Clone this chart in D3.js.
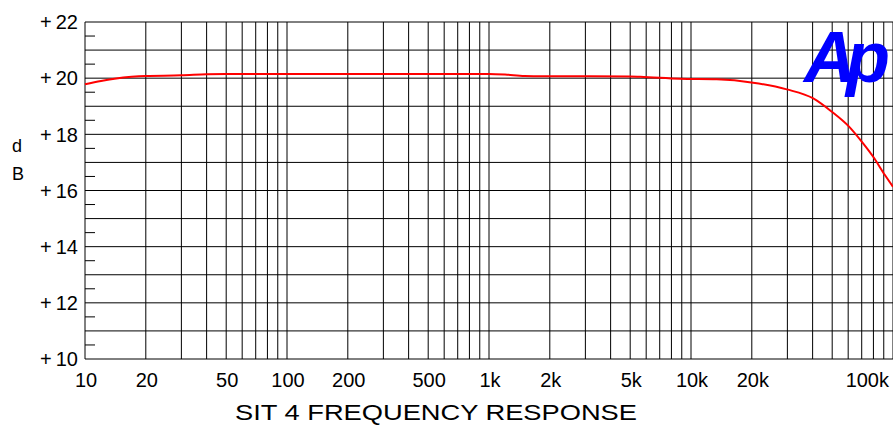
<!DOCTYPE html>
<html>
<head>
<meta charset="utf-8">
<script src="https://cdn.jsdelivr.net/npm/d3@7"></script>
<style>
  html, body { margin: 0; padding: 0; background: #fff; }
  svg { display: block; }
  text { font-family: "Liberation Sans", Arial, sans-serif; fill: #000; }
</style>
</head>
<body>
<svg id="chart" width="893" height="427"></svg>
<script>
// Measured response: frequency (Hz) and level (dB)
const freqHz = [10, 12, 14, 17, 20, 30, 40, 50, 100, 200, 500, 1000, 1200, 1500, 2000, 5000, 5600, 8800, 13400, 20300, 29800, 40300, 49700, 60100, 70000, 79800, 91200, 100000];
const levelDb = [19.78, 19.9, 19.98, 20.05, 20.08, 20.1, 20.14, 20.15, 20.15, 20.15, 20.15, 20.15, 20.13, 20.08, 20.07, 20.06, 20.05, 19.98, 19.96, 19.84, 19.60, 19.28, 18.81, 18.30, 17.74, 17.20, 16.55, 16.13];

const xTickValues = [10, 20, 50, 100, 200, 500, 1000, 2000, 5000, 10000, 20000, 100000];
const xTickLabels = ["10", "20", "50", "100", "200", "500", "1k", "2k", "5k", "10k", "20k", "100k"];
const yTickValues = [10, 12, 14, 16, 18, 20, 22];
const yTickLabels = ["+10", "+12", "+14", "+16", "+18", "+20", "+22"];
const yUnitLetters = ["d", "B"];
const titleText = "SIT 4 FREQUENCY RESPONSE";
const logoText = "Ap";

const svg = d3.select("#chart");
const plotL = 85, plotR = 893, plotT = 22, plotB = 359;

const x = d3.scaleLog().domain([10, 100000]).range([plotL, plotR]);
const y = d3.scaleLinear().domain([10, 22]).range([plotB, plotT]);

// Vertical grid: every 1..9 multiple of each decade
const vGrid = [];
for (let dec = 10; dec < 100000; dec *= 10) {
  for (let m = 1; m <= 9; m++) vGrid.push(dec * m);
}
vGrid.push(100000);

const grid = svg.append("g").attr("stroke", "#000").attr("stroke-width", 1);
grid.selectAll("line.v").data(vGrid).join("line")
  .attr("class", "v")
  .attr("x1", d => x(d)).attr("x2", d => x(d))
  .attr("y1", plotT).attr("y2", plotB);

// Horizontal grid: every 1 dB
grid.selectAll("line.h").data(d3.range(10, 23)).join("line")
  .attr("class", "h")
  .attr("x1", plotL).attr("x2", plotR)
  .attr("y1", d => y(d)).attr("y2", d => y(d));

// Half-dB minor ticks on the left axis
grid.selectAll("line.m").data(d3.range(10.5, 22, 1)).join("line")
  .attr("class", "m")
  .attr("x1", plotL).attr("x2", plotL + 10)
  .attr("y1", d => y(d)).attr("y2", d => y(d));

// Y tick labels
const yLab = svg.append("g").attr("font-size", 20).attr("text-anchor", "end");
yLab.selectAll("text").data(yTickValues).join("text")
  .attr("x", 78)
  .attr("y", d => y(d) + 7.3)
  .text((d, i) => yTickLabels[i].replace("+", "+\u2009"));

// X tick labels
const xLab = svg.append("g").attr("font-size", 20);
xLab.selectAll("text").data(xTickValues).join("text")
  .attr("x", (d, i) => i === xTickValues.length - 1 ? 889 : x(d) + 1)
  .attr("y", 386.5)
  .attr("text-anchor", (d, i) => i === xTickValues.length - 1 ? "end" : "middle")
  .text((d, i) => xTickLabels[i]);

// Unit label
svg.append("g").attr("font-size", 18).selectAll("text").data(yUnitLetters).join("text")
  .attr("x", 12)
  .attr("y", (d, i) => 152 + i * 28)
  .text(d => d);

// Title
svg.append("text")
  .attr("x", 235).attr("y", 419.5)
  .attr("font-size", 21.5)
  .attr("textLength", 402)
  .attr("lengthAdjust", "spacingAndGlyphs")
  .text(titleText);

// Response curve
const pts = freqHz.map((f, i) => [f, levelDb[i]]);
svg.append("path")
  .datum(pts)
  .attr("fill", "none")
  .attr("stroke", "#ff0000")
  .attr("stroke-width", 2)
  .attr("d", d3.line().x(d => x(d[0])).y(d => y(d[1])).curve(d3.curveMonotoneX));

// Logo
svg.append("text")
  .attr("x", 804).attr("y", 82)
  .attr("font-size", 72).attr("font-weight", "bold").attr("font-style", "italic")
  .attr("letter-spacing", -10)
  .style("fill", "#0000ff")
  .text(logoText);
</script>
</body>
</html>
